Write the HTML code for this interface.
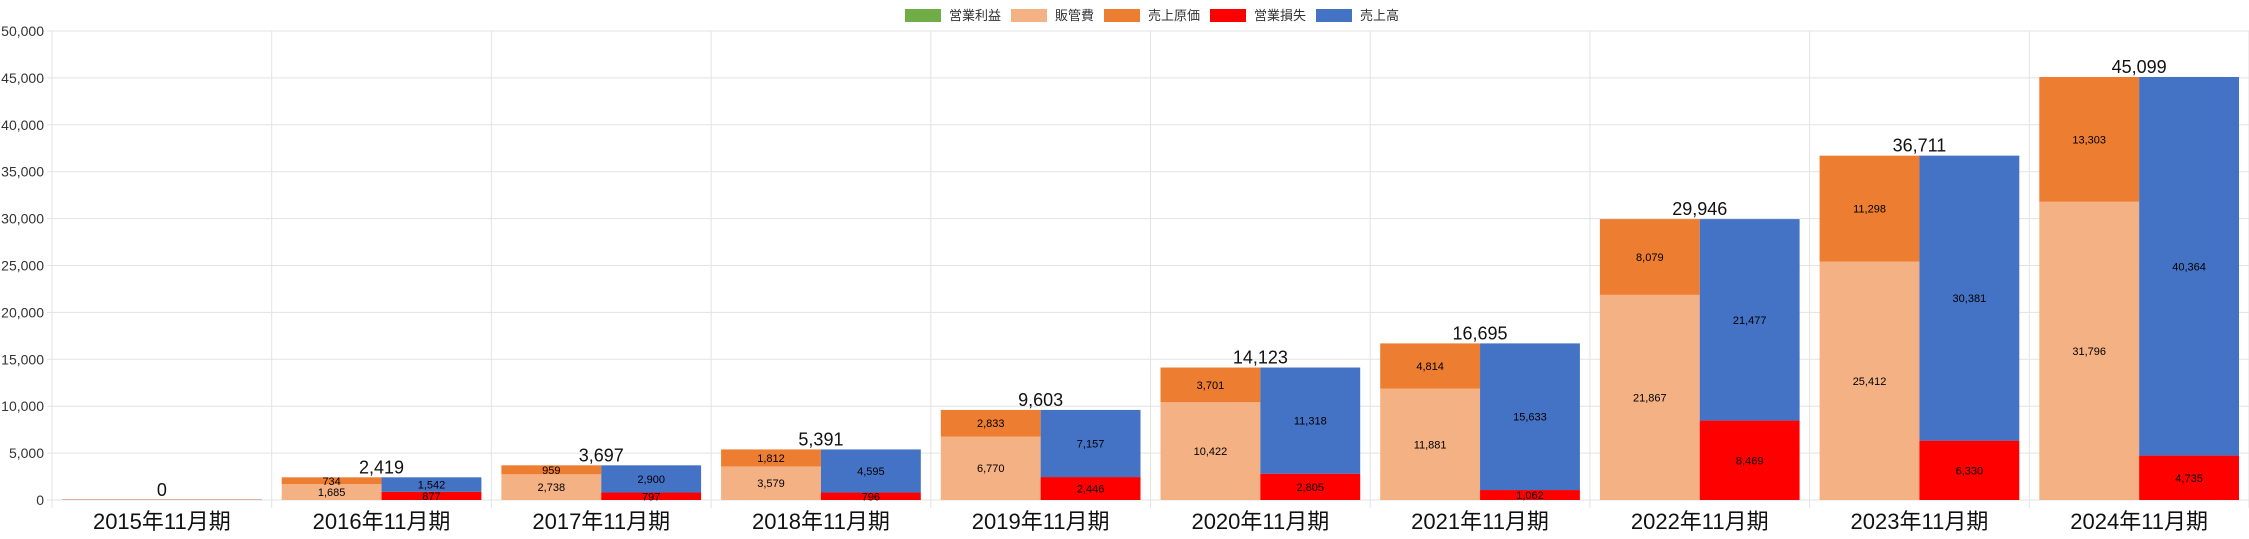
<!DOCTYPE html>
<html><head><meta charset="utf-8">
<style>
html,body{margin:0;padding:0;background:#fff;}
svg{display:block;font-family:"Liberation Sans","Noto Sans CJK JP",sans-serif;}
</style></head>
<body>
<svg id="chart" width="2249" height="539" viewBox="0 0 2249 539" xmlns="http://www.w3.org/2000/svg">
<g id="legend">
  <g><rect x="905" y="9" width="36" height="13" fill="#70ad47"/><text x="949" y="20" font-size="13" fill="#333">営業利益</text></g>
  <g><rect x="1011" y="9" width="36" height="13" fill="#f4b183"/><text x="1055" y="20" font-size="13" fill="#333">販管費</text></g>
  <g><rect x="1104" y="9" width="36" height="13" fill="#ed7d31"/><text x="1148" y="20" font-size="13" fill="#333">売上原価</text></g>
  <g><rect x="1210" y="9" width="36" height="13" fill="#ff0000"/><text x="1254" y="20" font-size="13" fill="#333">営業損失</text></g>
  <g><rect x="1316" y="9" width="36" height="13" fill="#4472c4"/><text x="1360" y="20" font-size="13" fill="#333">売上高</text></g>
</g>
<g id="grid"></g>
<g id="yaxis"></g>
<g id="bars"></g>
<g id="xaxis"></g>
</svg>
<script>
const categories = ["2015年11月期","2016年11月期","2017年11月期","2018年11月期","2019年11月期","2020年11月期","2021年11月期","2022年11月期","2023年11月期","2024年11月期"];
const sgaValues = [0,1685,2738,3579,6770,10422,11881,21867,25412,31796];
const cogsValues = [0,734,959,1812,2833,3701,4814,8079,11298,13303];
const lossValues = [0,877,797,796,2446,2805,1062,8469,6330,4735];
const salesValues = [0,1542,2900,4595,7157,11318,15633,21477,30381,40364];
const totalValues = [0,2419,3697,5391,9603,14123,16695,29946,36711,45099];
const yTicks = [0,5000,10000,15000,20000,25000,30000,35000,40000,45000,50000];

const NS="http://www.w3.org/2000/svg";
const L=52, R=2249, T=31, B=500, YMAX=50000;
const cw=(R-L)/categories.length;
function y(v){return B-(v/YMAX)*(B-T);}
function xc(i){return L+i*cw;}
function fmt(v){return v.toLocaleString("en-US");}
function mk(tag,attrs,parent){const e=document.createElementNS(NS,tag);for(const k in attrs)e.setAttribute(k,attrs[k]);parent.appendChild(e);return e;}

const grid=document.getElementById("grid"),yaxis=document.getElementById("yaxis"),bars=document.getElementById("bars"),xaxis=document.getElementById("xaxis");
yTicks.forEach(t=>{
  const ln=mk("line",{x1:L-5,x2:R,y1:y(t),y2:y(t),stroke:"#e3e3e3","stroke-width":1},grid);
  
  
  const tx=mk("text",{x:L-8,y:y(t)+5,"font-size":14,"text-anchor":"end",fill:"#333"},yaxis);
  tx.textContent=fmt(t);
  
  
});
for(let i=0;i<=categories.length;i++){
  const ln=mk("line",{x1:xc(i),x2:xc(i),y1:T,y2:B+8,stroke:"#e3e3e3","stroke-width":1},grid);
  
  
}
function seg(x,w,v0,v1,color,name,label,lblSize){
  const r=mk("rect",{x:x,y:y(v1),width:w,height:Math.max(0,y(v0)-y(v1)),fill:color},bars);
  
  
  if(label && v1>v0){
    const t=mk("text",{x:x+w/2,y:(y(v0)+y(v1))/2+4,"font-size":lblSize||11,"text-anchor":"middle",fill:"#000"},bars);
    t.textContent=fmt(v1-v0);
    
    
  }
}
categories.forEach((c,i)=>{
  const gx=xc(i)+10, bw=(cw-20)/2;
  seg(gx,bw,0,sgaValues[i],"#f4b183","bar-sga",true);
  seg(gx,bw,sgaValues[i],sgaValues[i]+cogsValues[i],"#ed7d31","bar-cogs",true);
  seg(gx+bw,bw,0,lossValues[i],"#ff0000","bar-operating-loss",true);
  seg(gx+bw,bw,lossValues[i],lossValues[i]+salesValues[i],"#4472c4","bar-sales",true);
  if(totalValues[i]===0){
    const z=mk("line",{x1:gx,x2:gx+2*bw,y1:B-0.5,y2:B-0.5,stroke:"#e0b0a0","stroke-width":1},bars);
    
    
  }
  const tt=mk("text",{x:xc(i)+cw/2,y:y(totalValues[i])-4,"font-size":18,"text-anchor":"middle",fill:"#111"},bars);
  tt.textContent=fmt(totalValues[i]);
  
  
  const xl=mk("text",{x:xc(i)+cw/2,y:529,"font-size":22,"text-anchor":"middle",fill:"#111"},xaxis);
  xl.textContent=c;
  
  
});
</script>
</body></html>
